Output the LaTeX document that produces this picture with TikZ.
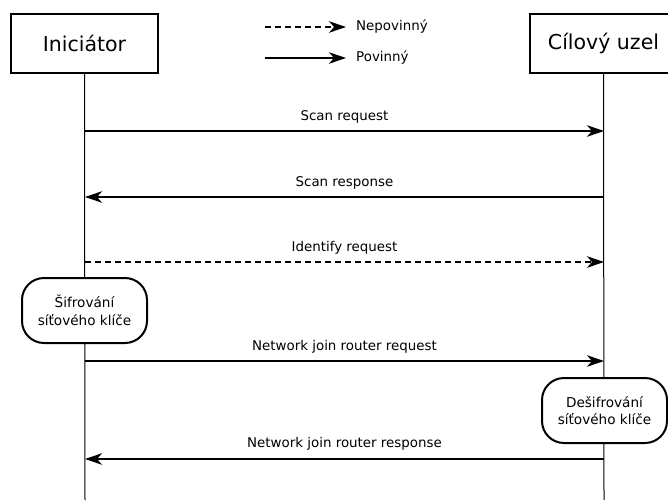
\documentclass[tikz,border=0pt]{standalone}
\usepackage{fontspec}
\setmainfont{DejaVu Sans}
\usetikzlibrary{arrows.meta}
\begin{document}
\begin{tikzpicture}[x=1pt,y=-1pt,
  actor/.style={draw,line width=1.8pt,minimum width=147pt,minimum height=59pt,inner sep=0pt,
    font=\fontsize{20.5}{24}\selectfont},
  procbox/.style={draw,line width=2pt,rounded corners=22pt,minimum width=125pt,minimum height=65pt,
    inner sep=0pt,align=center,fill=white,font=\fontsize{13.6}{17.5}\selectfont},
  lifeline/.style={line width=1pt},
  msg/.style={line width=1.9pt,-{Stealth[length=17pt,width=11.5pt,inset=5pt]}},
  opt/.style={msg,dash pattern=on 6pt off 4pt},
  lbl/.style={font=\fontsize{13.4}{16}\selectfont,inner sep=0pt}]
\useasboundingbox (0,0) rectangle (668,500);
\begin{scope}
\clip (0,0) rectangle (668,500);
% participants
\node[actor] (ini) at (84.5,43.5) {Iniciátor};
\node[actor] (tgt) at (603.5,43.5) {Cílový uzel};
\coordinate (iniend) at (85,500);
\coordinate (tgtend) at (604,500);
\draw[lifeline] (ini.south) -- (iniend);
\draw[lifeline] (tgt.south) -- (tgtend);
\end{scope}
% legend
\coordinate (l1a) at (265,27);
\coordinate (l1b) at (346,27);
\coordinate (l2a) at (265,58);
\coordinate (l2b) at (346,58);
\draw[opt] (l1a) -- (l1b);
\draw[msg] (l2a) -- (l2b);
\node[lbl,anchor=west] (lopt) at (356,27) {Nepovinný};
\node[lbl,anchor=west] (lreq) at (356,58) {Povinný};
% messages
\coordinate (a1) at (85,131);  \coordinate (b1) at (604,131);
\coordinate (a2) at (85,197);  \coordinate (b2) at (604,197);
\coordinate (a3) at (85,262);  \coordinate (b3) at (604,262);
\coordinate (a4) at (85,361);  \coordinate (b4) at (604,361);
\coordinate (a5) at (85,459);  \coordinate (b5) at (604,459);
\draw[msg] (a1) -- node[lbl,above=7pt] (m1) {Scan request} (b1);
\draw[msg] (b2) -- node[lbl,above=7pt] (m2) {Scan response} (a2);
\draw[opt] (a3) -- node[lbl,above=7pt] (m3) {Identify request} (b3);
\draw[msg] (a4) -- node[lbl,above=7pt] (m4) {Network join router request} (b4);
\draw[msg] (b5) -- node[lbl,above=8pt] (m5) {Network join router response} (a5);
% processing steps
\begin{scope}
\clip (0,0) rectangle (668,500);
\node[procbox] (enc) at (84.5,310.5) {Šifrování\\síťového klíče};
\node[procbox] (dec) at (604.5,410.5) {Dešifrování\\síťového klíče};
\end{scope}
\end{tikzpicture}
\end{document}
